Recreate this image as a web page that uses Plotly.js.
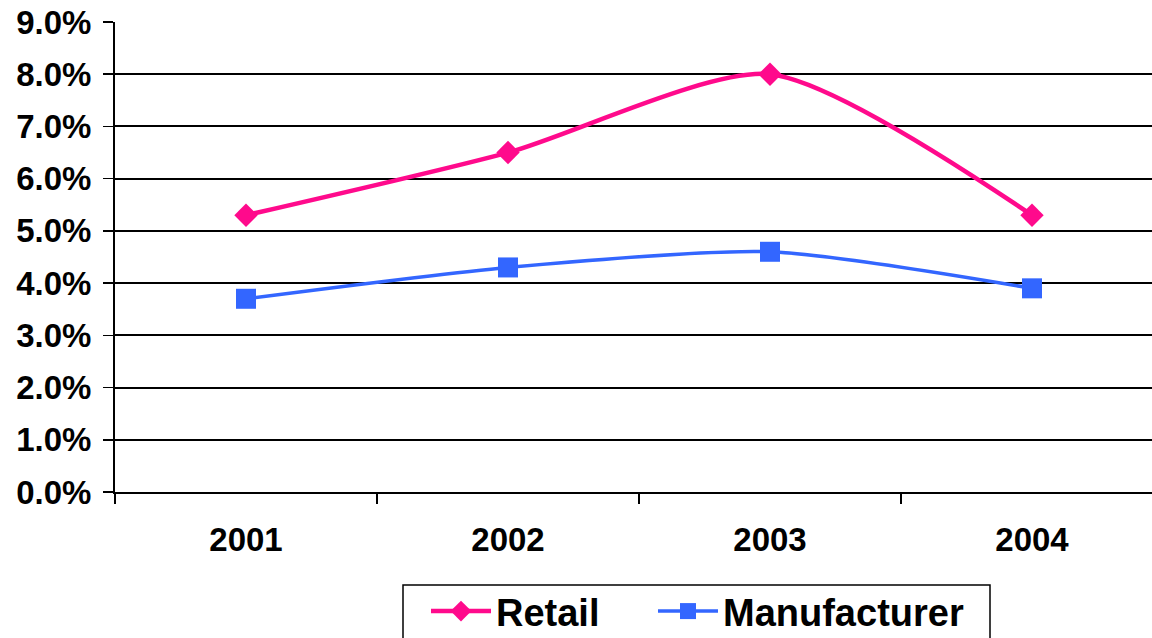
<!DOCTYPE html>
<html>
<head>
<meta charset="utf-8">
<script src="https://cdn.plot.ly/plotly-3.0.1.min.js"></script>
<style>html,body{margin:0;padding:0;background:#fff;overflow:hidden;}#chart{width:1152px;height:680px;}</style>
</head>
<body>
<div id="chart"></div>
<script>
const years = ['2001', '2002', '2003', '2004'];
const retail = [0.053, 0.065, 0.080, 0.053];
const manufacturer = [0.037, 0.043, 0.046, 0.039];
const yTicks = [0, 0.01, 0.02, 0.03, 0.04, 0.05, 0.06, 0.07, 0.08, 0.09];

const fontFam = 'Liberation Sans, Arial, sans-serif';
const legendFont = {family: fontFam, size: 38, color: '#000', weight: 700};
const traces = [
  {
    x: years, y: retail, name: 'Retail', type: 'scatter', mode: 'lines+markers',
    line: {color: '#FF0A8C', width: 4.5, shape: 'spline', smoothing: 0.7},
    marker: {symbol: 'diamond', size: 18, color: '#FF0A8C'},
    legend: 'legend'
  },
  {
    x: years, y: manufacturer, name: 'Manufacturer', type: 'scatter', mode: 'lines+markers',
    line: {color: '#3366FF', width: 3.5, shape: 'spline', smoothing: 0.7},
    marker: {symbol: 'square', size: 20, color: '#3366FF'},
    legend: 'legend2'
  }
];
const layout = {
  width: 1152, height: 680,
  margin: {l: 115, r: 0, t: 22, b: 188},
  paper_bgcolor: '#fff', plot_bgcolor: '#fff',
  showlegend: true,
  xaxis: {
    type: 'category', range: [-0.5, 3.458], tickson: 'boundaries',
    ticks: 'outside', ticklen: 10, tickwidth: 1.5, tickcolor: '#000',
    showgrid: false, showline: true, linecolor: '#000', linewidth: 2,
    ticklabelstandoff: 17,
    tickfont: {family: fontFam, size: 33, color: '#000', weight: 700}
  },
  yaxis: {
    range: [0, 0.09], tickmode: 'array', tickvals: yTicks, tickformat: '.1%',
    ticks: 'outside', ticklen: 10, tickwidth: 1.5, tickcolor: '#000',
    showgrid: true, gridcolor: '#000', gridwidth: 2,
    zeroline: true, zerolinecolor: '#000', zerolinewidth: 2,
    showline: true, linecolor: '#000', linewidth: 2,
    ticklabelstandoff: 5,
    tickfont: {family: fontFam, size: 33, color: '#000', weight: 700}
  },
  legend: {
    orientation: 'h', x: 0.2999, xanchor: 'left', y: -0.187, yanchor: 'top',
    borderwidth: 0, bgcolor: 'rgba(0,0,0,0)', itemwidth: 60, font: legendFont
  },
  legend2: {
    orientation: 'h', x: 0.5188, xanchor: 'left', y: -0.187, yanchor: 'top',
    borderwidth: 0, bgcolor: 'rgba(0,0,0,0)', itemwidth: 60, font: legendFont
  },
  shapes: [{
    type: 'rect', xref: 'paper', yref: 'paper',
    x0: (403 - 115) / 1037, x1: (990 - 115) / 1037, y0: -0.198, y1: -0.5,
    line: {color: '#000', width: 1.5}, fillcolor: 'rgba(0,0,0,0)', layer: 'below'
  }]
};
Plotly.newPlot('chart', traces, layout, {displayModeBar: false, staticPlot: true});
</script>
</body>
</html>
